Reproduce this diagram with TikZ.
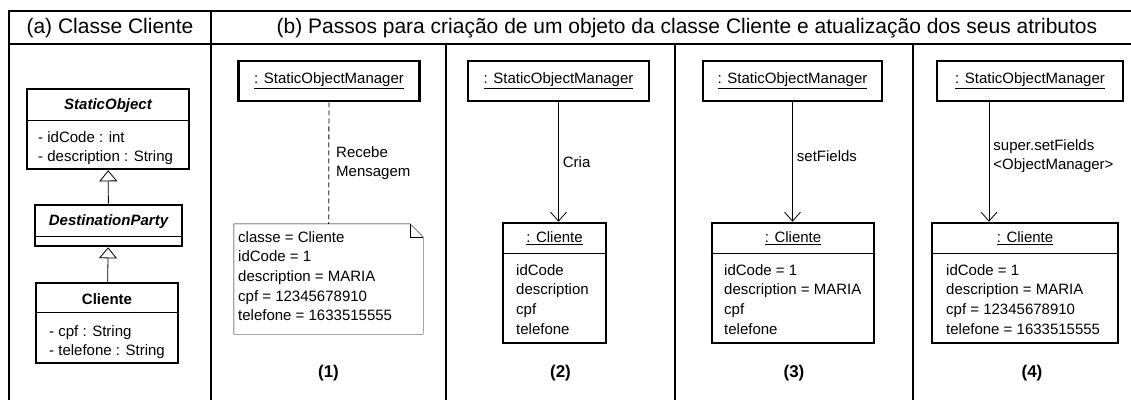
\documentclass[tikz,border=0pt]{standalone}
\usepackage{fontspec}
\setmainfont{Liberation Sans}
\usetikzlibrary{arrows.meta}

\begin{document}
\begin{tikzpicture}[x=1pt, y=-1pt,
    every node/.style={font=\fontsize{15}{19.7}\selectfont},
    classbox/.style={draw, line width=2.6pt, inner sep=0pt},
    objbox/.style={draw, line width=2.6pt, minimum height=40pt, minimum width=181pt, inner sep=0pt},
    attrs/.style={align=left, inner sep=0pt, anchor=north west},
    msg/.style={-{Straight Barb[length=9pt, width=16pt]}, line width=0.8pt},
    inherit/.style={-{Triangle[open, length=11pt, width=18pt]}, line width=0.8pt},
    lbl/.style={align=left, anchor=west, inner sep=4pt},
    stepno/.style={font=\fontsize{17}{20}\selectfont\bfseries},
    header/.style={font=\fontsize{21}{24}\selectfont}]
  \useasboundingbox (0,0) rectangle (1131,400);

  % frame
  \draw[line width=2.6pt] (9,400) -- (9,11) -- (1131,11);
  \draw[line width=2pt] (9,44) -- (1131,44);
  \draw[line width=2pt] (211,11) -- (211,400);
  \foreach \x in {446,675,913}
    \draw[line width=2pt] (\x,44) -- (\x,400);

  \node[header] (titlea) at (110,28) {(a) Classe Cliente};
  \node[header] (titleb) at (687,28) {(b) Passos para criação de um objeto da classe Cliente e atualização dos seus atributos};

  % (a) classes
  \node[classbox, minimum width=162pt, minimum height=80pt] (staticobj) at (108,129) {};
  \node[font=\fontsize{15}{19.7}\selectfont\bfseries\itshape] (staticname) at (108,106) {StaticObject};
  \draw ([yshift=-32pt]staticobj.north west) -- ([yshift=-32pt]staticobj.north east);
  \node[attrs] (staticattrs) at (38,131) {- idCode : int\\- description : String};

  \node[classbox, minimum width=147pt, minimum height=41pt] (destparty) at (108.5,225.5) {};
  \node[font=\fontsize{15}{19.7}\selectfont\bfseries\itshape] (destname) at (108.5,222) {DestinationParty};
  \draw ([yshift=-32pt]destparty.north west) -- ([yshift=-32pt]destparty.north east);

  \node[classbox, minimum width=142pt, minimum height=80pt] (clienteclass) at (107,323) {};
  \node[font=\fontsize{15}{19.7}\selectfont\bfseries] (clientename) at (107,299) {Cliente};
  \draw ([yshift=-30pt]clienteclass.north west) -- ([yshift=-30pt]clienteclass.north east);
  \node[attrs] (clienteattrs) at (49,325) {- cpf : String\\- telefone : String};

  \draw[inherit] (destparty) -- (staticobj);
  \draw[inherit] (clienteclass) -- (destparty);

  % (1)
  \node[objbox] (som1) at (329,81) {\underline{: StaticObjectManager}};
  \node[minimum width=189pt, minimum height=110pt, inner sep=0pt] (note1) at (328.5,279) {};
  \draw (note1.south west) -- (note1.north west) -- ([xshift=-13pt]note1.north east)
    -- ([yshift=-13pt]note1.north east) -- (note1.south east) -- cycle;
  \draw ([xshift=-13pt]note1.north east) |- ([yshift=-13pt]note1.north east);
  \node[attrs] (note1text) at (238,231) {classe = Cliente\\idCode = 1\\description = MARIA\\cpf = 12345678910\\telefone = 1633515555};
  \draw[dash pattern=on 5pt off 3pt, line width=0.8pt] (som1) -- (note1)
    node[lbl, midway, xshift=3pt] (lbl1) {Recebe\\Mensagem};
  \node[stepno] (step1) at (328.5,373) {(1)};

  % (2)
  \node[objbox] (som2) at (558.5,81) {\underline{: StaticObjectManager}};
  \node[classbox, minimum width=103pt, minimum height=120pt] (cli2) at (554.5,283) {};
  \node (cli2name) at (554.5,238.5) {\underline{: Cliente}};
  \draw ([yshift=-31pt]cli2.north west) -- ([yshift=-31pt]cli2.north east);
  \node[attrs] (cli2attrs) at (516,264) {idCode\\description\\cpf\\telefone};
  \draw[msg] (som2) -- (som2 |- cli2.north) node[lbl, midway] (lbl2) {Cria};
  \node[stepno] (step2) at (560.5,373) {(2)};

  % (3)
  \node[objbox, minimum width=179pt] (som3) at (792.5,81) {\underline{: StaticObjectManager}};
  \node[classbox, minimum width=162pt, minimum height=120pt] (cli3) at (793,283) {};
  \node (cli3name) at (793,238.5) {\underline{: Cliente}};
  \draw ([yshift=-31pt]cli3.north west) -- ([yshift=-31pt]cli3.north east);
  \node[attrs] (cli3attrs) at (724,264) {idCode = 1\\description = MARIA\\cpf\\telefone};
  \draw[msg] (som3) -- (som3 |- cli3.north) node[lbl, pos=0.45] (lbl3) {setFields};
  \node[stepno] (step3) at (794,373) {(3)};

  % (4)
  \node[objbox, minimum width=186pt] (som4) at (1030,81) {\underline{: StaticObjectManager}};
  \node[classbox, minimum width=186pt, minimum height=120pt] (cli4) at (1025,283) {};
  \node (cli4name) at (1025,238.5) {\underline{: Cliente}};
  \draw ([yshift=-31pt]cli4.north west) -- ([yshift=-31pt]cli4.north east);
  \node[attrs] (cli4attrs) at (946,264) {idCode = 1\\description = MARIA\\cpf = 12345678910\\telefone = 1633515555};
  \draw[msg] ([xshift=-41pt]som4.south) -- ([xshift=-41pt]som4.south |- cli4.north)
    node[lbl, pos=0.45] (lbl4) {super.setFields\\<ObjectManager>};
  \node[stepno] (step4) at (1032,373) {(4)};
\end{tikzpicture}
\end{document}
